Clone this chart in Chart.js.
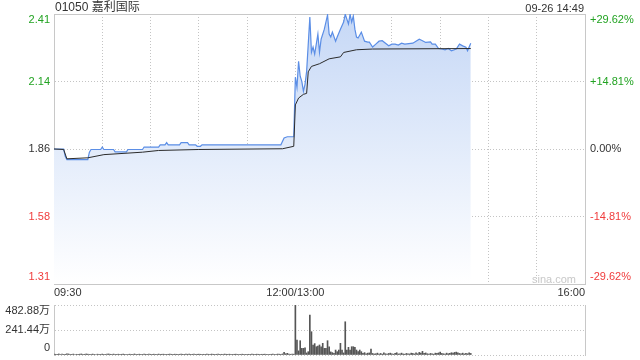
<!DOCTYPE html>
<html>
<head>
<meta charset="utf-8">
<script src="https://cdn.jsdelivr.net/npm/chart.js@4/dist/chart.umd.min.js"></script>
<style>
  html, body { margin: 0; padding: 0; background: #fff; width: 640px; height: 360px; overflow: hidden; }
  body { position: relative; font-family: "Liberation Sans", Arial, "Noto Sans CJK SC", sans-serif; color: #333; }
  canvas { position: absolute; left: 0; }
  #main { top: 0; }
  #vol { top: 300px; }
  .txt { position: absolute; white-space: nowrap; }
  #title { left: 55px; top: 0; font-size: 12px; line-height: 15px; }
  #stamp { right: 56px; top: 1px; font-size: 11px; line-height: 14px; }
  #mark { left: 532px; top: 272px; font-size: 11px; line-height: 14px; color: #c8c8c8; }
</style>
</head>
<body>
<canvas id="main" width="640" height="300"></canvas>
<canvas id="vol" width="640" height="60"></canvas>
<div class="txt" id="title"></div>
<div class="txt" id="stamp"></div>
<div class="txt" id="mark"></div>

<script>
// ---------- dados ----------
const stockCode = "01050";
const stockName = "嘉利国际";
const stampText = "09-26 14:49";
const watermark = "sina.com";
const prevClose = 1.86;

const pctTicks = [-29.62, -14.81, 0, 14.81, 29.62];
const priceTickLabels = ["1.31", "1.58", "1.86", "2.14", "2.41"];
const pctTickLabels = ["-29.62%", "-14.81%", "0.00%", "+14.81%", "+29.62%"];

const gridTimes = ["09:30", "10:00", "10:30", "11:00", "11:30", "12:00",
                   "13:30", "14:00", "14:30", "15:00", "15:30", "16:00"];
const axisTimes = ["09:30", "12:00", "16:00"];
const axisLabels = ["09:30", "12:00/13:00", "16:00"];

// price line
const priceTimes = [
  "09:30", "09:36", "09:37", "09:38", "09:51", "09:52", "09:53", "09:59", "10:00", "10:01",
  "10:07", "10:08", "10:15", "10:16", "10:25", "10:26", "10:35", "10:36", "10:39", "10:40",
  "10:41", "10:48", "10:49", "10:53", "10:54", "10:58", "10:59", "11:01", "11:02", "11:51",
  "11:53", "11:55", "11:59",
  "13:00", "13:01", "13:02", "13:03", "13:04", "13:05", "13:06", "13:07", "13:09", "13:10",
  "13:11", "13:12", "13:14", "13:15", "13:16", "13:18", "13:20", "13:21", "13:22", "13:23",
  "13:25", "13:26", "13:28", "13:30", "13:31", "13:32", "13:33", "13:34", "13:35", "13:36",
  "13:37", "13:38", "13:39", "13:41", "13:43", "13:45", "13:46", "13:48", "13:50", "13:52",
  "13:54", "13:58", "14:00", "14:02", "14:04", "14:06", "14:08", "14:13", "14:17", "14:19",
  "14:21", "14:24", "14:25", "14:27", "14:29", "14:31", "14:33", "14:35", "14:37", "14:40",
  "14:42", "14:44", "14:46", "14:47", "14:49"
];
const prices = [
  1.860, 1.860, 1.830, 1.817, 1.817, 1.847, 1.858, 1.858, 1.868, 1.858,
  1.858, 1.848, 1.848, 1.858, 1.858, 1.868, 1.868, 1.877, 1.877, 1.886,
  1.877, 1.877, 1.886, 1.886, 1.877, 1.877, 1.871, 1.871, 1.877, 1.877,
  1.905, 1.910, 1.910,
  2.153, 2.112, 2.218, 2.157, 2.136, 2.096, 2.124, 2.177, 2.399, 2.255,
  2.276, 2.247, 2.329, 2.255, 2.308, 2.349, 2.407, 2.329, 2.317, 2.337,
  2.300, 2.317, 2.349, 2.378, 2.410, 2.390, 2.370, 2.410, 2.378, 2.403,
  2.349, 2.317, 2.313, 2.337, 2.300, 2.296, 2.296, 2.276, 2.288, 2.300,
  2.302, 2.281, 2.288, 2.288, 2.284, 2.292, 2.288, 2.292, 2.308, 2.302,
  2.295, 2.297, 2.288, 2.288, 2.270, 2.268, 2.265, 2.270, 2.261, 2.268,
  2.288, 2.281, 2.275, 2.261, 2.292
];

// average price line
const avgTimes = [
  "09:30", "09:36", "09:38", "09:51", "10:01", "10:25", "10:35", "11:00", "11:52", "11:59",
  "13:00", "13:02", "13:05", "13:07", "13:08", "13:10", "13:15", "13:21", "13:28", "13:30",
  "13:38", "13:48", "14:49"
];
const avgPrices = [
  1.860, 1.858, 1.820, 1.824, 1.837, 1.847, 1.854, 1.858, 1.861, 1.871,
  2.040, 2.068, 2.083, 2.087, 2.175, 2.197, 2.208, 2.228, 2.236, 2.254,
  2.265, 2.268, 2.270
];

// volume (万), one bar per minute
const volTicks = [0, 241.44, 482.88];
const volTickLabels = ["0", "241.44万", "482.88万"];
const volMorning = [ // 09:30 - 11:59
  9, 7, 6, 10, 5, 8, 6, 7, 12, 10,
  7, 6, 9, 5, 7, 6, 8, 10, 6, 7,
  10, 8, 6, 7, 9, 6, 5, 8, 7, 6,
  9, 7, 6, 8, 10, 7, 6, 9, 7, 6,
  8, 6, 7, 9, 6, 5, 7, 8, 6, 7,
  10, 7, 6, 8, 7, 6, 9, 7, 6, 8,
  7, 6, 8, 6, 7, 9, 6, 7, 8, 6,
  6, 7, 9, 7, 6, 8, 7, 6, 7, 9,
  7, 6, 8, 7, 9, 6, 7, 8, 6, 7,
  8, 7, 6, 7, 6, 8, 7, 6, 9, 7,
  6, 7, 8, 6, 7, 6, 9, 7, 6, 8,
  7, 6, 7, 8, 6, 7, 6, 8, 7, 6,
  6, 7, 6, 9, 7, 6, 8, 7, 6, 7,
  7, 8, 6, 7, 6, 7, 8, 6, 7, 9,
  8, 7, 10, 26, 12, 16, 9, 7, 10, 8
];
const volAfternoon = [ // 13:00 - 14:49
  482.88, 145, 40, 138, 64, 64, 70, 20, 32, 386,
  225, 97, 110, 80, 85, 97, 80, 113, 64, 64,
  138, 80, 30, 23, 15, 48, 32, 48, 113, 48,
  20, 321, 48, 74, 48, 80, 80, 74, 48, 32,
  48, 32, 15, 23, 12, 18, 20, 58, 15, 10,
  12, 18, 10, 15, 8, 20, 12, 10, 15, 18,
  12, 8, 15, 22, 10, 12, 18, 10, 8, 15,
  12, 10, 18, 15, 10, 20, 12, 25, 18, 35,
  15, 20, 12, 10, 15, 12, 8, 18, 15, 20,
  28, 15, 12, 10, 18, 12, 15, 22, 18, 25,
  28, 20, 15, 12, 18, 10, 15, 12, 20, 15
];

// ---------- cores ----------
const UP = "#22a322";
const DOWN = "#f03c3c";
const FLAT = "#333";
const GRID = "#c4c4c4";
const FRAME = "#c8c8c8";

// trading minute: 09:30 -> 0, 12:00 / 13:00 -> 150, 16:00 -> 330
function toMinute(t) {
  const [h, m] = t.split(":").map(Number);
  const mins = h * 60 + m;
  return mins <= 720 ? mins - 570 : mins - 780 + 150;
}

function signColor(v) {
  if (v > 1e-6) return UP;
  if (v < -1e-6) return DOWN;
  return FLAT;
}

// top / bottom y labels sit inside the frame, like the original
const shiftedItems = new WeakSet();
const edgeLabels = {
  id: "edgeLabels",
  beforeDraw(chart) {
    Object.values(chart.scales).forEach(s => {
      if (s.axis !== "y" || !s.options.ticks.display) return;
      const items = s.getLabelItems();
      if (!items.length || shiftedItems.has(items)) return;
      shiftedItems.add(items);
      items[0].options.translation[1] -= 7;
      items[items.length - 1].options.translation[1] += 6;
    });
  }
};

Chart.defaults.font.family = '"Liberation Sans", Arial, "Noto Sans CJK SC", sans-serif';
Chart.defaults.font.size = 11;

document.getElementById("title").textContent = stockCode + " " + stockName;
document.getElementById("stamp").textContent = stampText;
document.getElementById("mark").textContent = watermark;

// ---------- grafico de preco ----------
const priceData = priceTimes.map((t, i) => ({ x: toMinute(t), y: prices[i] }));
const avgData = avgTimes.map((t, i) => ({ x: toMinute(t), y: avgPrices[i] }));

new Chart(document.getElementById("main"), {
  type: "line",
  data: {
    datasets: [
      {
        label: "均价",
        data: avgData,
        borderColor: "#2b2b2b",
        borderWidth: 1,
        pointRadius: 0,
        fill: false
      },
      {
        label: "价格",
        data: priceData,
        borderColor: "#5b8ee6",
        borderWidth: 1.2,
        pointRadius: 0,
        fill: "start",
        backgroundColor: ctx => {
          const area = ctx.chart.chartArea;
          if (!area) return "rgba(200,218,246,0.6)";
          const g = ctx.chart.ctx.createLinearGradient(0, area.top, 0, area.bottom);
          g.addColorStop(0, "rgb(198,216,246)");
          g.addColorStop(1, "rgb(255,255,255)");
          return g;
        }
      }
    ]
  },
  options: {
    responsive: false,
    animation: false,
    events: [],
    layout: { padding: { top: 14, left: 0, right: 0, bottom: 0 } },
    plugins: {
      legend: { display: false },
      tooltip: { enabled: false },
      filler: { drawTime: "beforeDatasetsDraw" }
    },
    scales: {
      x: {
        type: "linear",
        min: 0,
        max: 330,
        afterBuildTicks: s => { s.ticks = gridTimes.map(t => ({ value: toMinute(t) })); },
        afterFit: s => { s.height = 16; },
        grid: { color: GRID, drawTicks: false },
        border: { color: FRAME, dash: [1, 2] },
        ticks: {
          autoSkip: false,
          maxRotation: 0,
          align: "inner",
          padding: 2,
          color: FLAT,
          callback: v => {
            const k = axisTimes.findIndex(t => toMinute(t) === v);
            return k < 0 ? "" : axisLabels[k];
          }
        }
      },
      x2: {
        type: "linear",
        position: "top",
        min: 0,
        max: 330,
        afterFit: s => { s.height = 0; },
        grid: { display: false, drawTicks: false },
        ticks: { display: false },
        border: { color: FRAME }
      },
      y: {
        type: "linear",
        position: "left",
        min: prevClose * (1 + pctTicks[0] / 100),
        max: prevClose * (1 + pctTicks[pctTicks.length - 1] / 100),
        afterBuildTicks: s => { s.ticks = pctTicks.map(p => ({ value: prevClose * (1 + p / 100) })); },
        afterFit: s => { s.width = 54; },
        grid: { color: GRID, drawTicks: false },
        border: { color: FRAME, dash: [1, 2] },
        ticks: {
          padding: 4,
          color: ctx => signColor(ctx.tick.value - prevClose),
          callback: (v, i) => priceTickLabels[i]
        }
      },
      y2: {
        type: "linear",
        position: "right",
        min: pctTicks[0],
        max: pctTicks[pctTicks.length - 1],
        afterBuildTicks: s => { s.ticks = pctTicks.map(p => ({ value: p })); },
        afterFit: s => { s.width = 55; },
        grid: { display: false, drawTicks: false },
        border: { color: FRAME },
        ticks: {
          padding: 5,
          color: ctx => signColor(ctx.tick.value),
          callback: (v, i) => pctTickLabels[i]
        }
      }
    }
  },
  plugins: [edgeLabels]
});

// ---------- grafico de volume ----------
const volData = volMorning.map((v, i) => ({ x: i, y: v }))
  .concat(volAfternoon.map((v, i) => ({ x: 150 + i, y: v })));

new Chart(document.getElementById("vol"), {
  type: "bar",
  data: {
    datasets: [{
      label: "成交量",
      data: volData,
      backgroundColor: "#555",
      barThickness: 1
    }]
  },
  options: {
    responsive: false,
    animation: false,
    events: [],
    layout: { padding: { top: 5, left: 0, right: 0, bottom: 5 } },
    plugins: { legend: { display: false }, tooltip: { enabled: false } },
    scales: {
      x: { type: "linear", min: 0, max: 330, offset: false, display: false },
      y: {
        min: volTicks[0],
        max: volTicks[volTicks.length - 1],
        afterBuildTicks: s => { s.ticks = volTicks.map(v => ({ value: v })); },
        afterFit: s => { s.width = 54; s.paddingTop = 0; s.paddingBottom = 0; },
        grid: { color: GRID, drawTicks: false },
        border: { color: FRAME, dash: [1, 2] },
        ticks: { padding: 4, color: FLAT, callback: (v, i) => volTickLabels[i] }
      },
      y2: {
        position: "right",
        min: volTicks[0],
        max: volTicks[volTicks.length - 1],
        afterFit: s => { s.width = 55; s.paddingTop = 0; s.paddingBottom = 0; },
        grid: { display: false, drawTicks: false },
        ticks: { display: false },
        border: { color: FRAME }
      }
    }
  },
  plugins: [edgeLabels]
});
</script>
</body>
</html>
